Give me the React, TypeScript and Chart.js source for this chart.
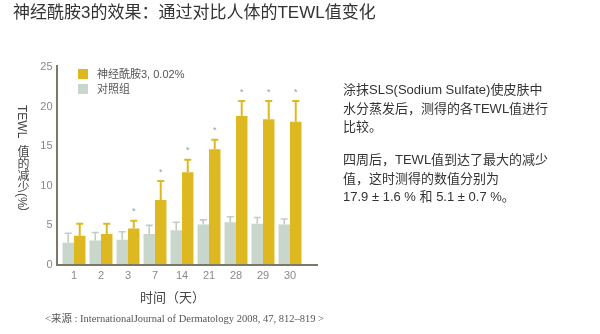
import React, { useEffect, useRef } from "react";
import { Chart, registerables } from "chart.js";
Chart.register(...registerables);

const days = ["1", "2", "3", "7", "14", "21", "28", "29", "30"];
const ceramide = [3.7, 3.9, 4.6, 8.2, 11.7, 14.6, 18.8, 18.4, 18.1];
const ceramideErr = [1.5, 1.3, 1.0, 2.4, 1.6, 1.2, 1.9, 2.3, 2.6];
const control = [2.8, 3.1, 3.2, 3.9, 4.4, 5.1, 5.4, 5.2, 5.1];
const controlErr = [1.2, 1.0, 1.0, 1.1, 1.0, 0.6, 0.7, 0.8, 0.7];
const significant = [false, false, true, true, true, true, true, true, true];
const yTicks = [0, 5, 10, 15, 20, 25];

const YELLOW = "#DDB820";
const GREY = "#C8D6CB";
const AXIS = "#7B7965";
const SANS = '"Liberation Sans", "Noto Sans CJK SC", sans-serif';

const errorPlugin = {
  id: "errs",
  afterDatasetsDraw(chart: any) {
    const ctx = chart.ctx;
    const ys = chart.scales.y;
    const errs = [controlErr, ceramideErr];
    const vals = [control, ceramide];
    const cols = ["#BFCEC3", YELLOW];
    ctx.save();
    [0, 1].forEach((di) => {
      const meta = chart.getDatasetMeta(di);
      meta.data.forEach((bar: any, i: number) => {
        const top = ys.getPixelForValue(vals[di][i] + errs[di][i]);
        const base = ys.getPixelForValue(vals[di][i]);
        ctx.strokeStyle = cols[di];
        ctx.lineWidth = di === 1 ? 2 : 1.6;
        ctx.beginPath();
        ctx.moveTo(bar.x, base);
        ctx.lineTo(bar.x, top);
        ctx.moveTo(bar.x - 3.5, top);
        ctx.lineTo(bar.x + 3.5, top);
        ctx.stroke();
        if (di === 1 && significant[i]) {
          ctx.fillStyle = "#999";
          ctx.font = "9px " + SANS;
          ctx.textAlign = "center";
          ctx.textBaseline = "middle";
          ctx.fillText("*", bar.x, top - 9);
        }
      });
    });
    const ca = chart.chartArea;
    ctx.strokeStyle = AXIS;
    ctx.lineWidth = 2;
    ctx.beginPath();
    ctx.moveTo(57, ca.top - 2);
    ctx.lineTo(57, ca.bottom);
    ctx.lineTo(318, ca.bottom);
    ctx.stroke();
    ctx.restore();
  },
};

export default function App() {
  const ref = useRef<HTMLCanvasElement>(null);
  useEffect(() => {
    const chart = new Chart(ref.current!, {
      type: "bar",
      data: {
        labels: days,
        datasets: [
          { label: "对照组", data: control, backgroundColor: GREY },
          { label: "神经酰胺3, 0.02%", data: ceramide, backgroundColor: YELLOW },
        ],
      },
      options: {
        responsive: false,
        animation: false,
        layout: { padding: { left: 0, right: 296.5, top: 67, bottom: 49 } },
        plugins: { legend: { display: false }, tooltip: { enabled: false } },
        datasets: { bar: { categoryPercentage: 0.85, barPercentage: 1 } },
        scales: {
          x: {
            grid: { display: false, drawTicks: false },
            border: { display: false },
            ticks: { color: "#888", font: { size: 11, family: SANS }, padding: 4 },
            afterFit: (s: any) => { s.height = 20; },
          },
          y: {
            min: 0,
            max: 25,
            afterBuildTicks: (s: any) => { s.ticks = yTicks.map((v) => ({ value: v })); },
            grid: { display: false, drawTicks: false },
            border: { display: false },
            ticks: { color: "#888", font: { size: 11, family: SANS }, padding: 8 },
            afterFit: (s: any) => { s.width = 60.5; },
          },
        },
      },
      plugins: [errorPlugin],
    });
    return () => chart.destroy();
  }, []);

  const abs = (o: any): React.CSSProperties => ({ position: "absolute", whiteSpace: "nowrap", ...o });

  return (
    <div style={{ position: "fixed", left: 0, top: 0, width: 600, height: 334, background: "#fff", overflow: "hidden", fontFamily: SANS }}>
      <canvas ref={ref} width={600} height={334} style={{ position: "absolute", left: 0, top: 0 }} />
      <div style={abs({ left: 13, top: 2, fontSize: 17, lineHeight: "21px", color: "#333" })}>
        神经酰胺3的效果：通过对比人体的TEWL值变化
      </div>
      <div style={abs({ left: 15, top: 105, fontSize: 12, color: "#444", writingMode: "vertical-rl", lineHeight: "14px" })}>
        TEWL&nbsp;&nbsp;值的减少(%）
      </div>
      <div style={abs({ left: 78, top: 69, width: 10, height: 10, background: YELLOW })} />
      <div style={abs({ left: 97, top: 66, fontSize: 11, lineHeight: "16px", color: "#555" })}>神经酰胺3, 0.02%</div>
      <div style={abs({ left: 78, top: 84, width: 10, height: 10, background: GREY })} />
      <div style={abs({ left: 97, top: 81, fontSize: 11, lineHeight: "16px", color: "#555" })}>对照组</div>
      <div style={abs({ left: 140, top: 289, fontSize: 13, lineHeight: "18px", color: "#444" })}>时间（天）</div>
      <div style={abs({ left: 45, top: 312, fontSize: 10.5, lineHeight: "14px", color: "#555", fontFamily: '"Liberation Serif", "Noto Sans CJK SC", serif' })}>
        &lt;来源 : InternationalJournal of Dermatology 2008, 47, 812–819 &gt;
      </div>
      <div style={abs({ left: 343, top: 81, fontSize: 13, lineHeight: "18.5px", color: "#333" })}>
        涂抹SLS(Sodium Sulfate)使皮肤中<br />
        水分蒸发后，测得的各TEWL值进行<br />
        比较。
      </div>
      <div style={abs({ left: 343, top: 151, fontSize: 13, lineHeight: "18.5px", color: "#333" })}>
        四周后，TEWL值到达了最大的减少<br />
        值，这时测得的数值分别为<br />
        17.9 ± 1.6 % 和 5.1 ± 0.7 %。
      </div>
    </div>
  );
}
